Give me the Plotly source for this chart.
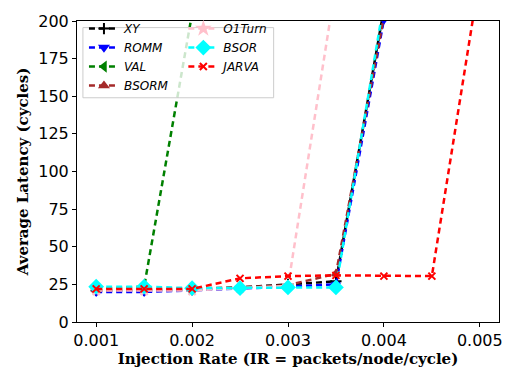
import plotly.graph_objects as go

# Injection rates (packets/node/cycle)
ir = [0.001, 0.0015, 0.002, 0.0025, 0.003, 0.0035, 0.004, 0.0045, 0.005]

# Average latency (cycles) per routing algorithm
lat_xy = [21, 21, 21.5, 23, 25, 27, 208]
lat_romm = [20, 20, 21, 22.5, 23.5, 25, 201]
lat_val = [22, 23.5, 205]
lat_bsorm = [21, 21.5, 22, 23, 24.5, 32, 203]
lat_o1turn = [21, 21, 21, 22.5, 24, 225]
lat_bsor = [23.5, 23.5, 22.5, 22.5, 23, 23, 212]
lat_jarva = [22, 22, 22, 29, 30.5, 31, 30.5, 30.5, 230]

x_ticks = [0.001, 0.002, 0.003, 0.004, 0.005]
y_ticks = [0, 25, 50, 75, 100, 125, 150, 175, 200]

series = [
    ("XY", lat_xy, "black", "cross-thin", 8, "legend"),
    ("ROMM", lat_romm, "blue", "triangle-down", 7, "legend"),
    ("VAL", lat_val, "green", "triangle-left", 7, "legend"),
    ("BSORM", lat_bsorm, "#a52a2a", "triangle-up", 7, "legend"),
    ("O1Turn", lat_o1turn, "pink", "star", 8, "legend2"),
    ("BSOR", lat_bsor, "cyan", "diamond", 10, "legend2"),
    ("JARVA", lat_jarva, "red", "x-thin", 7, "legend2"),
]

fig = go.Figure()
for name, vals, color, sym, size, leg in series:
    fig.add_trace(go.Scatter(
        x=ir[:len(vals)], y=vals, name=name, mode="lines+markers",
        line=dict(color=color, width=2.5, dash="6px,4px"),
        marker=dict(symbol=sym, size=size, color=color,
                    line=dict(color=color, width=2)),
        legend=leg, cliponaxis=True,
    ))

axis_common = dict(
    showgrid=False, zeroline=False, showline=True, linecolor="black",
    linewidth=1, mirror=True, ticks="outside", ticklen=4, tickcolor="black",
    tickfont=dict(family="DejaVu Sans", size=16, color="black"),
)

title_font = dict(family="DejaVu Serif", size=15, color="black")
leg_font = dict(family="DejaVu Sans", size=12, color="black", style="italic")
fig.update_layout(
    width=515, height=377,
    margin=dict(l=77, r=15, t=13, b=50),
    paper_bgcolor="white", plot_bgcolor="white",
    xaxis=dict(range=[0.0008, 0.0052], tickvals=x_ticks,
               ticktext=[f"{v:.3f}" for v in x_ticks],
               title=dict(text="<b>Injection Rate (IR = packets/node/cycle)</b>",
                          font=title_font, standoff=4),
               **axis_common),
    yaxis=dict(range=[0, 200], tickvals=y_ticks,
               title=dict(text="<b>Average Latency (cycles)</b>",
                          font=title_font, standoff=6),
               **axis_common),
    legend=dict(x=0.0165, y=1.023, xanchor="left", yanchor="top",
                bgcolor="rgba(0,0,0,0)", borderwidth=0, font=leg_font,
                itemwidth=30, tracegroupgap=0),
    legend2=dict(x=0.252, y=1.023, xanchor="left", yanchor="top",
                 bgcolor="rgba(0,0,0,0)", borderwidth=0, font=leg_font,
                 itemwidth=30, tracegroupgap=0),
    shapes=[dict(type="rect", xref="paper", yref="paper",
                 x0=0.014, x1=0.466, y0=0.745, y1=0.978,
                 fillcolor="rgba(255,255,255,0.8)",
                 line=dict(color="#cccccc", width=1), layer="above")],
    showlegend=True,
)

fig.write_html("out.html")
